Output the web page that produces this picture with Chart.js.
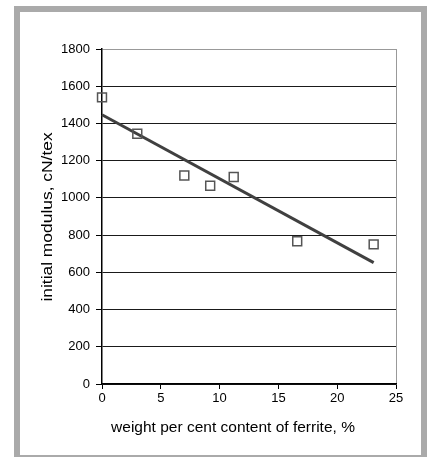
<!DOCTYPE html>
<html>
<head>
<meta charset="utf-8">
<script src="https://cdn.jsdelivr.net/npm/chart.js@4.4.1/dist/chart.umd.min.js"></script>
<style>
  html, body { margin: 0; padding: 0; background: #fff; }
  #wrap { position: relative; width: 430px; height: 457px; overflow: hidden; }
  #frame {
    position: absolute; left: 14px; top: 6px; width: 413px; height: 455px;
    box-sizing: border-box; border: 6px solid #aaaaaa; pointer-events: none;
  }
  canvas { position: absolute; left: 0; top: 0; }
</style>
</head>
<body>
<div id="wrap">
  <canvas id="c" width="430" height="457"></canvas>
  <div id="frame"></div>
</div>
<script>
// Measured samples: ferrite content (wt %) vs. initial modulus (cN/tex)
const ferriteContent = [0, 3, 7, 9.2, 11.2, 16.6, 23.1];
const initialModulus = [1540, 1345, 1120, 1065, 1112, 767, 750];

// Linear trend line end points
const trendX = [0, 23.1];
const trendY = [1447, 652];

const xTicks = [0, 5, 10, 15, 20, 25];
const yTicks = [0, 200, 400, 600, 800, 1000, 1200, 1400, 1600, 1800];

const xTitle = 'weight per cent content of ferrite, %';
const yTitle = 'initial modulus, cN/tex';

const FONT = '"Liberation Sans", Arial, sans-serif';

const points = ferriteContent.map((x, i) => ({ x, y: initialModulus[i] }));
const trend = trendX.map((x, i) => ({ x, y: trendY[i] }));

// Axis titles placed by hand; the vertical one is set slightly wide
const axisTitles = {
  id: 'axisTitles',
  afterDraw(chart) {
    const ctx = chart.ctx;
    ctx.save();
    ctx.fillStyle = '#000';
    ctx.font = '15.5px ' + FONT;
    ctx.textAlign = 'center';
    ctx.textBaseline = 'middle';
    ctx.fillText(xTitle, 233, 428);
    ctx.font = '15px ' + FONT;
    ctx.translate(48, 217);
    ctx.rotate(-Math.PI / 2);
    ctx.scale(1.16, 1);
    ctx.fillText(yTitle, 0, 0);
    ctx.restore();
  }
};

new Chart(document.getElementById('c'), {
  type: 'scatter',
  data: {
    datasets: [
      {
        type: 'line',
        data: trend,
        borderColor: '#404040',
        borderWidth: 3,
        pointRadius: 0,
        fill: false,
        clip: false,
        order: 2
      },
      {
        data: points,
        pointStyle: 'rect',
        pointRadius: 6.3,
        pointBorderWidth: 1.5,
        pointBorderColor: '#555555',
        pointBackgroundColor: 'rgba(255,255,255,0)',
        clip: false,
        order: 1
      }
    ]
  },
  options: {
    responsive: false,
    animation: false,
    layout: { padding: { left: 0, right: 34, top: 49, bottom: 0 } },
    plugins: { legend: { display: false }, tooltip: { enabled: false } },
    scales: {
      x: {
        type: 'linear',
        min: 0, max: 25,
        afterBuildTicks(scale) { scale.ticks = xTicks.map(v => ({ value: v })); },
        afterFit(scale) { scale.height = 457 - 384; },
        ticks: {
          color: '#000', font: { family: FONT, size: 13 }, padding: 2, maxRotation: 0,
          callback: v => String(v)
        },
        grid: {
          drawOnChartArea: true,
          color: c => (c.tick && c.tick.value === 25 ? '#999999' : 'rgba(0,0,0,0)'),
          tickColor: '#000',
          tickLength: 5,
          lineWidth: 1
        },
        border: { display: true, color: '#000', width: 1.5 }
      },
      y: {
        type: 'linear',
        min: 0, max: 1800,
        afterBuildTicks(scale) { scale.ticks = yTicks.map(v => ({ value: v })); },
        afterFit(scale) { scale.width = 102; },
        ticks: {
          color: '#000', font: { family: FONT, size: 13 }, padding: 6,
          callback: v => String(v)
        },
        grid: {
          color: c => (c.tick && c.tick.value === 1800 ? '#999999' : '#1a1a1a'),
          tickColor: '#000',
          tickLength: 6,
          lineWidth: 1
        },
        border: { display: true, color: '#000', width: 1.5 }
      }
    }
  },
  plugins: [axisTitles]
});
</script>
</body>
</html>
